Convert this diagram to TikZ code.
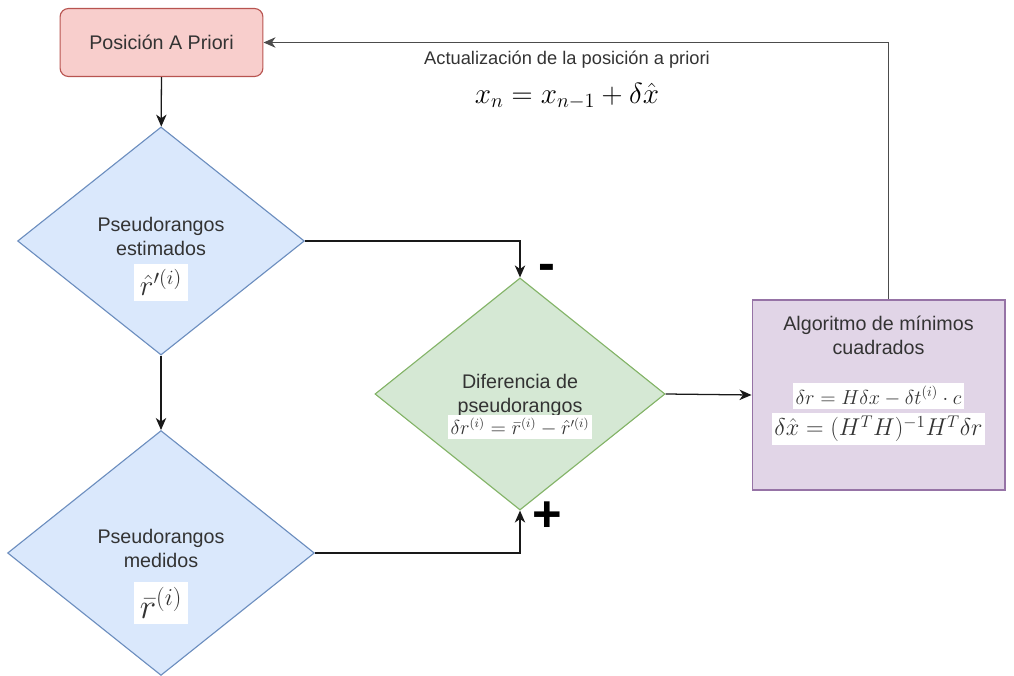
\documentclass[tikz,border=0pt]{standalone}
\usepackage{amsmath,amssymb}
\usepackage{fontspec}
\setmainfont{Liberation Sans}
\usepackage{tikz}
\usetikzlibrary{arrows.meta,positioning,calc,shapes.geometric}
\definecolor{priofill}{HTML}{F8CECC}
\definecolor{priodraw}{HTML}{B85450}
\definecolor{estfill}{HTML}{DAE8FC}
\definecolor{estdraw}{HTML}{6C8EBF}
\definecolor{diffill}{HTML}{D5E8D4}
\definecolor{difdraw}{HTML}{82B366}
\definecolor{algfill}{HTML}{E1D5E7}
\definecolor{algdraw}{HTML}{9673A6}
\definecolor{txt}{HTML}{333333}
\newcommand{\mbx}[3][2pt]{{\setlength{\fboxsep}{#1}\colorbox{white}{\fontsize{#2}{#2}\selectfont$#3$}}}
\tikzset{
  prio/.style={draw=priodraw, fill=priofill, rounded corners=6pt, line width=0.8pt,
    minimum width=5.07cm, minimum height=1.7cm, font=\fontsize{14}{17}\selectfont, text=txt},
  dia/.style={diamond, line width=0.8pt, inner sep=0pt},
  lbl/.style={align=center, font=\fontsize{14}{17}\selectfont, text=txt},
  arr/.style={-{Stealth[length=3mm, width=2.6mm, inset=0.9mm]}, line width=0.9pt, black!90},
  sgn/.style={font=\bfseries\fontsize{36}{36}\selectfont},
}

\begin{document}
\begin{tikzpicture}[x=0.025cm, y=-0.025cm]
\useasboundingbox (0,0) rectangle (1014,676);
% bloques
\node[prio] (prio) at (161.5,42.5) {Posición A Priori};
\node[dia, draw=estdraw, fill=estfill, minimum width=7.17cm, minimum height=5.7cm] (est) at (161,241) {};
\node[dia, draw=estdraw, fill=estfill, minimum width=7.67cm, minimum height=6.12cm] (med) at (161,553) {};
\node[dia, draw=difdraw, fill=diffill, minimum width=7.25cm, minimum height=5.8cm] (dif) at (520,394) {};
\node[draw=algdraw, fill=algfill, line width=0.8pt, minimum width=6.32cm, minimum height=4.75cm] (alg) at (878.5,395) {};
% textos
\node[lbl] (esttxt) at ([yshift=-0.45cm]est.center)
  {Pseudorangos\\estimados\\[5pt]\mbx[4pt]{21}{\hat{r}'^{(i)}}};
\node[lbl] (medtxt) at ([yshift=-0.6cm]med.center)
  {Pseudorangos\\medidos\\[9pt]\mbx[4pt]{24}{\bar{r}^{(i)}}};
\node[lbl] (diftxt) at ([yshift=-0.32cm]dif.center)
  {Diferencia de\\pseudorangos\\[-1pt]\mbx{13.5}{\delta r^{(i)} = \bar{r}^{(i)} - \hat{r}'^{(i)}}};
\node[lbl, anchor=north] (algtxt) at ([yshift=-0.3cm]alg.north)
  {Algoritmo de mínimos\\cuadrados\\[18pt]\mbx{14.5}{\delta r = H\delta x - \delta t^{(i)}\cdot c}\\[2pt]
   \mbx{16.5}{\delta\hat{x} = (H^{T}H)^{-1}H^{T}\delta r}};
\node[font=\fontsize{13}{15}\selectfont, text=txt] (upd) at (567,60) {Actualización de la posición a priori};
\node[below=0.12cm of upd, font=\fontsize{20}{20}\selectfont] (updeq) {$x_n = x_{n-1} + \delta\hat{x}$};
% conexiones
\draw[arr] (prio) -- (est);
\draw[arr] (est) -- (med);
\draw[arr] (est.east) -| (dif.north);
\draw[arr] (med.east) -| (dif.south);
\draw[arr] (dif.east) -- (alg.west);
\draw[arr, black!70] ([xshift=7pt]alg.north) |- (prio.east);
\node[sgn] (minus) at (547,272) {-};
\node[sgn] (plus) at (547,517) {+};
\end{tikzpicture}
\end{document}
